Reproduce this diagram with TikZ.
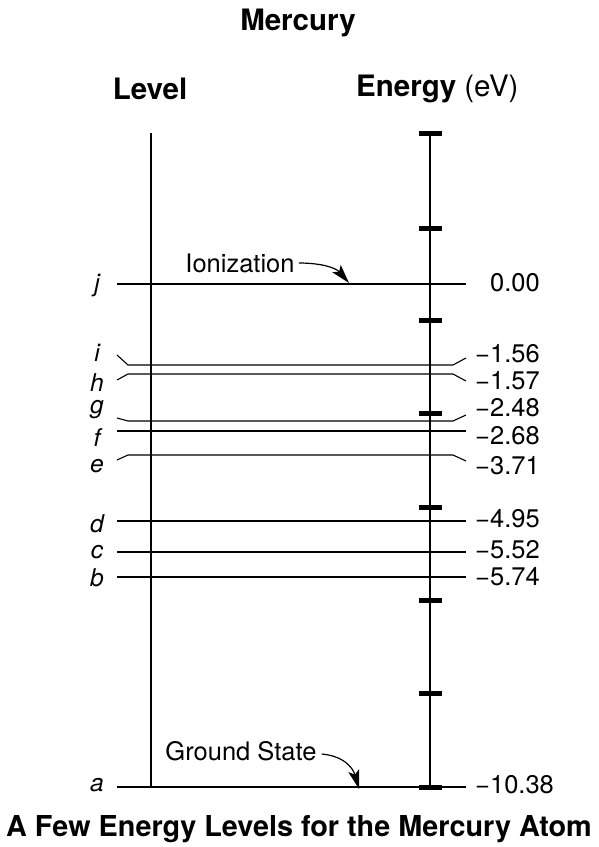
\documentclass[tikz,border=0pt]{standalone}
\usepackage{fontspec}
\setmainfont{TeX Gyre Heros}
\usetikzlibrary{arrows.meta,positioning}
\tikzset{
  titletext/.style={font=\fontsize{29.5}{33}\selectfont\bfseries, inner sep=0pt},
  captext/.style={font=\fontsize{28.8}{33}\selectfont\bfseries, inner sep=0pt},
  lvlabel/.style={font=\fontsize{24.5}{28}\selectfont\itshape, inner sep=0pt},
  nrglabel/.style={font=\fontsize{25.5}{28}\selectfont, anchor=west, inner sep=0pt},
  notetext/.style={font=\fontsize{25.5}{28}\selectfont, inner sep=0pt},
  axisline/.style={line width=2.6pt},
  lvl/.style={line width=1.1pt},
  tickmark/.style={line width=5pt},
  callout/.style={line width=1.2pt, -{Stealth[length=19pt, width=11pt, inset=4pt]}},
}
\begin{document}
\begin{tikzpicture}[x=1pt, y=-1pt]
\useasboundingbox (0,0) rectangle (599,847);

% --- Headings ---
\node[titletext] (title) at (298,23) {Mercury};
\node[titletext] (hlevel) at (150,89) {Level};
\node[titletext, anchor=west] (henergy) at (356,89) {Energy \mdseries(eV)};

% --- Axes ---
\draw[axisline] (151,133) -- (151,787);
\draw[axisline] (430,133) -- (430,787);
\foreach \y in {133,228,320,413,507,600,693,787}
  \draw[tickmark] (419,\y) -- (442,\y);

% --- Level lines ---
\draw[lvl] (117,284) -- (466,284);
\draw[lvl] (117,355) -- (128,365) -- (453,365) -- (466,358);
\draw[lvl] (117,380) -- (128,374) -- (453,374) -- (466,381);
\draw[lvl] (117,418) -- (128,421) -- (453,421) -- (466,415);
\draw[lvl] (117,431) -- (466,431);
\draw[lvl] (117,460) -- (128,455) -- (453,455) -- (466,461);
\draw[lvl] (117,521) -- (466,521);
\draw[lvl] (117,552) -- (466,552);
\draw[lvl] (117,577) -- (466,577);
\draw[line width=2.4pt] (117,787) -- (466,787);

% --- Level letters ---
\node[lvlabel] (lj) at (97,286) {j};
\node[lvlabel] (li) at (97,353) {i};
\node[lvlabel] (lh) at (97,383) {h};
\node[lvlabel] (lg) at (97,410) {g};
\node[lvlabel] (lf) at (97,438) {f};
\node[lvlabel] (le) at (97,466) {e};
\node[lvlabel] (ld) at (97,524) {d};
\node[lvlabel] (lc) at (97,552) {c};
\node[lvlabel] (lb) at (97,578) {b};
\node[lvlabel] (la) at (97,785) {a};

% --- Energies ---
\node[nrglabel] (ej) at (490,283) {0.00};
\node[nrglabel] (ei) at (475,354) {−1.56};
\node[nrglabel] (eh) at (475,381) {−1.57};
\node[nrglabel] (eg) at (475,408) {−2.48};
\node[nrglabel] (ef) at (475,436) {−2.68};
\node[nrglabel] (ee) at (475,466) {−3.71};
\node[nrglabel] (ed) at (475,519) {−4.95};
\node[nrglabel] (ec) at (475,550) {−5.52};
\node[nrglabel] (eb) at (475,577) {−5.74};
\node[nrglabel] (ea) at (475,785) {−10.38};

% --- Callouts ---
\node[notetext] (ion) at (240,263) {Ionization};
\coordinate (iontip) at (349,283);
\draw[callout] (ion.east) ++(4,0) .. controls (322,263) and (336,268) .. (iontip);

\node[notetext] (ground) at (241,751) {Ground State};
\coordinate (groundtip) at (359,789);
\draw[callout] (ground.east) ++(5,3) .. controls (344,756) and (353,768) .. (groundtip);

% --- Caption ---
\node[captext] (caption) at (299,829) {A Few Energy Levels for the Mercury Atom};

\end{tikzpicture}
\end{document}
